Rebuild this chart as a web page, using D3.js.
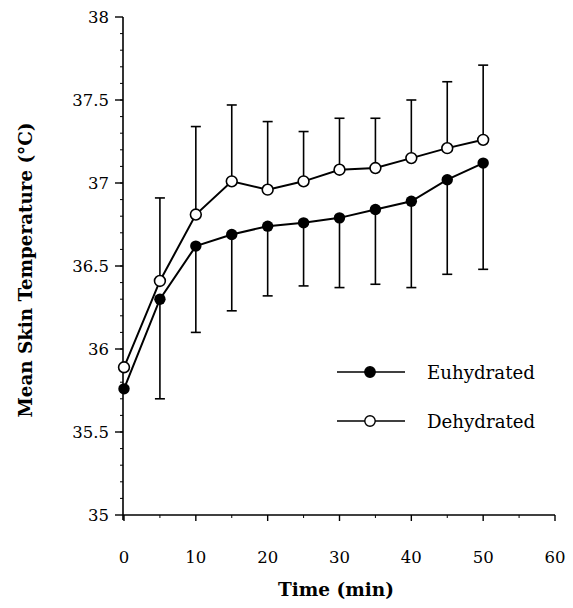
<!DOCTYPE html>
<html>
<head>
<meta charset="utf-8">
<script src="https://d3js.org/d3.v7.min.js"></script>
<style>
  body { margin: 0; background: #fff; }
  svg { display: block; }
</style>
</head>
<body>
<svg width="573" height="608"></svg>
<script>
// values
const times = [0, 5, 10, 15, 20, 25, 30, 35, 40, 45, 50];
const euhydrated = [35.76, 36.30, 36.62, 36.69, 36.74, 36.76, 36.79, 36.84, 36.89, 37.02, 37.12];
const euhydratedLow = [null, 35.70, 36.10, 36.23, 36.32, 36.38, 36.37, 36.39, 36.37, 36.45, 36.48];
const dehydrated = [35.89, 36.41, 36.81, 37.01, 36.96, 37.01, 37.08, 37.09, 37.15, 37.21, 37.26];
const dehydratedHigh = [null, 36.91, 37.34, 37.47, 37.37, 37.31, 37.39, 37.39, 37.50, 37.61, 37.71];
const xTicks = [0, 10, 20, 30, 40, 50, 60];
const yTicks = [35, 35.5, 36, 36.5, 37, 37.5, 38];
const yTickLabels = ["35", "35.5", "36", "36.5", "37", "37.5", "38"];

const svg = d3.select("svg");
const font = "'DejaVu Serif', serif";

const x = d3.scaleLinear().domain([0, 60]).range([124, 555]);
const y = d3.scaleLinear().domain([35, 38]).range([515, 17]);

// y axis
const yAxis = svg.append("g").attr("transform", `translate(${x(0) - 1},0)`);
yAxis.append("line").attr("x1", 0).attr("x2", 0).attr("y1", y(38)).attr("y2", y(35) + 5)
  .attr("stroke", "#000").attr("stroke-width", 1.6);
yAxis.selectAll("line.minor").data(d3.range(35.1, 38, 0.1)).enter().append("line")
  .attr("class", "minor").attr("x1", -3).attr("x2", 0)
  .attr("y1", d => y(d)).attr("y2", d => y(d)).attr("stroke", "#000").attr("stroke-width", 1);
yAxis.selectAll("line.major").data(yTicks).enter().append("line")
  .attr("class", "major").attr("x1", -8).attr("x2", 0)
  .attr("y1", d => y(d)).attr("y2", d => y(d)).attr("stroke", "#000").attr("stroke-width", 1.4);
yAxis.selectAll("text").data(yTicks).enter().append("text")
  .attr("x", -14).attr("y", d => y(d)).attr("dy", "0.36em")
  .attr("text-anchor", "end").attr("font-family", font).attr("font-size", 16.5)
  .text((d, i) => yTickLabels[i]);

// x axis
const xAxis = svg.append("g").attr("transform", `translate(0,${y(35)})`);
xAxis.append("line").attr("x1", x(0) - 1).attr("x2", x(60)).attr("y1", 0).attr("y2", 0)
  .attr("stroke", "#000").attr("stroke-width", 1.6);
xAxis.selectAll("line.minor").data(d3.range(5, 60, 10)).enter().append("line")
  .attr("class", "minor").attr("x1", d => x(d)).attr("x2", d => x(d)).attr("y1", 0).attr("y2", 3)
  .attr("stroke", "#000").attr("stroke-width", 1);
xAxis.selectAll("line.major").data(xTicks).enter().append("line")
  .attr("class", "major").attr("x1", d => x(d)).attr("x2", d => x(d)).attr("y1", 0).attr("y2", 6)
  .attr("stroke", "#000").attr("stroke-width", 1.4);
xAxis.selectAll("text").data(xTicks).enter().append("text")
  .attr("x", d => x(d)).attr("y", 48).attr("text-anchor", "middle")
  .attr("font-family", font).attr("font-size", 16.5).text(d => d);

// axis titles
svg.append("text").attr("x", 336).attr("y", 596).attr("text-anchor", "middle")
  .attr("font-family", font).attr("font-weight", "bold").attr("font-size", 18.5)
  .text("Time (min)");
svg.append("text").attr("transform", "translate(32,270) rotate(-90)").attr("text-anchor", "middle")
  .attr("font-family", font).attr("font-weight", "bold").attr("font-size", 18)
  .attr("textLength", 295).attr("lengthAdjust", "spacingAndGlyphs")
  .text("Mean Skin Temperature (°C)");

const capW = 5;
// error bars: dehydrated upward, euhydrated downward
const eb = svg.append("g").attr("stroke", "#000").attr("stroke-width", 1.6);
times.forEach((t, i) => {
  if (dehydratedHigh[i] != null) {
    eb.append("line").attr("x1", x(t)).attr("x2", x(t)).attr("y1", y(dehydrated[i])).attr("y2", y(dehydratedHigh[i]));
    eb.append("line").attr("x1", x(t) - capW).attr("x2", x(t) + capW).attr("y1", y(dehydratedHigh[i])).attr("y2", y(dehydratedHigh[i]));
  }
  if (euhydratedLow[i] != null) {
    eb.append("line").attr("x1", x(t)).attr("x2", x(t)).attr("y1", y(euhydrated[i])).attr("y2", y(euhydratedLow[i]));
    eb.append("line").attr("x1", x(t) - capW).attr("x2", x(t) + capW).attr("y1", y(euhydratedLow[i])).attr("y2", y(euhydratedLow[i]));
  }
});

// lines
const line = d3.line().x((d, i) => x(times[i])).y(d => y(d));
[euhydrated, dehydrated].forEach(s => {
  svg.append("path").datum(s).attr("d", line).attr("fill", "none")
    .attr("stroke", "#000").attr("stroke-width", 2);
});

// markers
svg.append("g").selectAll("circle").data(dehydrated).enter().append("circle")
  .attr("cx", (d, i) => x(times[i])).attr("cy", d => y(d)).attr("r", 5.4)
  .attr("fill", "#fff").attr("stroke", "#000").attr("stroke-width", 1.6);
svg.append("g").selectAll("circle").data(euhydrated).enter().append("circle")
  .attr("cx", (d, i) => x(times[i])).attr("cy", d => y(d)).attr("r", 5.7)
  .attr("fill", "#000");

// legend
const legend = [
  { name: "Euhydrated", filled: true, y: 372 },
  { name: "Dehydrated", filled: false, y: 421 }
];
const lg = svg.append("g");
legend.forEach(l => {
  lg.append("line").attr("x1", 337).attr("x2", 405).attr("y1", l.y).attr("y2", l.y)
    .attr("stroke", "#000").attr("stroke-width", 1.6);
  lg.append("circle").attr("cx", 370).attr("cy", l.y).attr("r", 5.2)
    .attr("fill", l.filled ? "#000" : "#fff").attr("stroke", "#000").attr("stroke-width", 1.4);
  lg.append("text").attr("x", 427).attr("y", l.y).attr("dy", "0.36em")
    .attr("font-family", font).attr("font-size", 18.2).text(l.name);
});
</script>
</body>
</html>
